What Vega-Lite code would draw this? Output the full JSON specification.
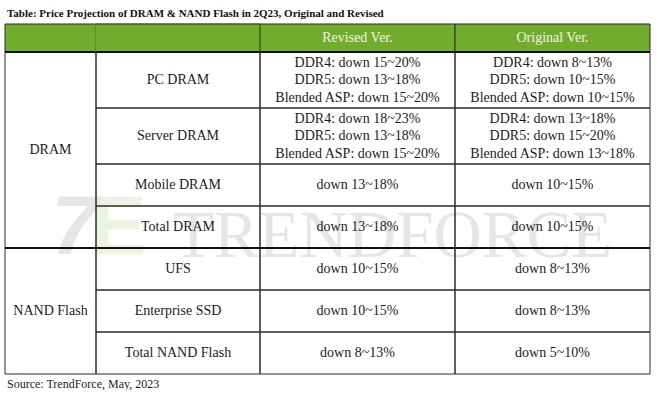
{
  "$schema": "https://vega.github.io/schema/vega-lite/v6.json",
  "background": "white",
  "padding": {"left": 3, "top": 7, "right": 0, "bottom": 0},
  "bounds": "flush",
  "spacing": 0,
  "title": {
    "text": "Table: Price Projection of DRAM & NAND Flash in 2Q23, Original and Revised",
    "anchor": "start",
    "frame": "group",
    "font": "Liberation Serif",
    "fontSize": 11,
    "fontWeight": "bold",
    "color": "#111111",
    "offset": 5,
    "dx": 2
  },
  "datasets": {
    "rows": [
      {"group": "DRAM", "item": "PC DRAM", "revised": "DDR4: down 15~20%\nDDR5: down 13~18%\nBlended ASP: down 15~20%", "original": "DDR4: down 8~13%\nDDR5: down 10~15%\nBlended ASP: down 10~15%", "rowStart": 2, "rowEnd": 6},
      {"group": "DRAM", "item": "Server DRAM", "revised": "DDR4: down 18~23%\nDDR5: down 13~18%\nBlended ASP: down 15~20%", "original": "DDR4: down 13~18%\nDDR5: down 15~20%\nBlended ASP: down 13~18%", "rowStart": 6, "rowEnd": 10},
      {"group": "DRAM", "item": "Mobile DRAM", "revised": "down 13~18%", "original": "down 10~15%", "rowStart": 10, "rowEnd": 13},
      {"group": "DRAM", "item": "Total DRAM", "revised": "down 13~18%", "original": "down 10~15%", "rowStart": 13, "rowEnd": 16},
      {"group": "NAND Flash", "item": "UFS", "revised": "down 10~15%", "original": "down 8~13%", "rowStart": 16, "rowEnd": 19},
      {"group": "NAND Flash", "item": "Enterprise SSD", "revised": "down 10~15%", "original": "down 8~13%", "rowStart": 19, "rowEnd": 22},
      {"group": "NAND Flash", "item": "Total NAND Flash", "revised": "down 8~13%", "original": "down 5~10%", "rowStart": 22, "rowEnd": 25}
    ],
    "header": [
      {"col": "group", "label": ""},
      {"col": "item", "label": ""},
      {"col": "revised", "label": "Revised Ver."},
      {"col": "original", "label": "Original Ver."}
    ],
    "notes": [
      {"kind": "watermark", "text": "TRENDFORCE"},
      {"kind": "logo1", "text": "7"},
      {"kind": "logo2", "text": "E"},
      {"kind": "source", "text": "Source: TrendForce, May, 2023"}
    ]
  },
  "config": {
    "view": {"stroke": null},
    "text": {"font": "Liberation Serif", "fontSize": 14, "color": "#1c1c1c"}
  },
  "hconcat": [
    {
      "width": 91,
      "height": 350,
      "layer": [
        {
          "data": {"name": "notes"},
          "transform": [{"filter": "datum.kind == 'logo2'"}],
          "mark": {"type": "text", "font": "Liberation Sans", "fontWeight": "bold", "fontSize": 84, "color": "#edf3e3", "baseline": "alphabetic", "align": "center", "dx": 68},
          "encoding": {
            "y": {"datum": 16.4, "type": "quantitative", "scale": {"domain": [0, 25], "reverse": true, "nice": false, "zero": false}, "axis": null},
            "text": {"field": "text", "type": "nominal"}
          }
        },
        {
          "data": {"name": "notes"},
          "transform": [{"filter": "datum.kind == 'logo1'"}],
          "mark": {"type": "text", "font": "Liberation Sans", "fontWeight": "bold", "fontStyle": "italic", "fontSize": 84, "color": "#e6e6e6", "baseline": "alphabetic", "align": "center", "dx": 24},
          "encoding": {
            "y": {"datum": 16.4, "type": "quantitative", "scale": {"domain": [0, 25], "reverse": true, "nice": false, "zero": false}, "axis": null},
            "text": {"field": "text", "type": "nominal"}
          }
        },
        {
          "data": {"name": "notes"},
          "transform": [{"filter": "datum.kind == 'watermark'"}],
          "mark": {"type": "text", "fontSize": 67, "color": "#e6e6e6", "baseline": "alphabetic", "align": "center", "dx": 342},
          "encoding": {
            "y": {"datum": 16.65, "type": "quantitative", "scale": {"domain": [0, 25], "reverse": true, "nice": false, "zero": false}, "axis": null},
            "text": {"field": "text", "type": "nominal"}
          }
        },
        {
          "data": {"name": "header"},
          "transform": [{"filter": "datum.col == 'group'"}],
          "mark": {"type": "rect", "fill": "#72ac2c", "stroke": "#2a2a2a", "strokeWidth": 1},
          "encoding": {
            "y": {"datum": 0, "type": "quantitative", "scale": {"domain": [0, 25], "reverse": true, "nice": false, "zero": false}, "axis": null},
            "y2": {"datum": 2}
          }
        },
        {
          "data": {"name": "rows"},
          "transform": [{"aggregate": [{"op": "min", "field": "rowStart", "as": "rowStart"}, {"op": "max", "field": "rowEnd", "as": "rowEnd"}], "groupby": ["group"]}],
          "mark": {"type": "rect", "fill": "white", "fillOpacity": 0, "stroke": "#2a2a2a", "strokeWidth": 1},
          "encoding": {
            "y": {"field": "rowStart", "type": "quantitative", "scale": {"domain": [0, 25], "reverse": true, "nice": false, "zero": false}, "axis": null},
            "y2": {"field": "rowEnd"}
          }
        },
        {
          "data": {"name": "rows"},
          "transform": [
            {"aggregate": [{"op": "min", "field": "rowStart", "as": "rowStart"}, {"op": "max", "field": "rowEnd", "as": "rowEnd"}], "groupby": ["group"]},
            {"fold": ["rowStart", "rowEnd"], "as": ["edge", "pos"]}
          ],
          "mark": {"type": "text", "baseline": "middle", "align": "center"},
          "encoding": {
            "y": {"aggregate": "mean", "field": "pos", "type": "quantitative", "scale": {"domain": [0, 25], "reverse": true, "nice": false, "zero": false}, "axis": null},
            "text": {"field": "group", "type": "nominal"}
          }
        },
        {
          "data": {"name": "rows"},
          "transform": [{"aggregate": [{"op": "min", "field": "rowStart", "as": "rowStart"}], "groupby": ["group"]}],
          "mark": {"type": "rule", "color": "#111111", "strokeWidth": 2.2},
          "encoding": {
            "y": {"field": "rowStart", "type": "quantitative", "scale": {"domain": [0, 25], "reverse": true, "nice": false, "zero": false}, "axis": null}
          }
        },
        {
          "data": {"name": "notes"},
          "transform": [{"filter": "datum.kind == 'source'"}],
          "mark": {"type": "text", "fontSize": 12, "align": "left", "baseline": "alphabetic", "dx": -43.5},
          "encoding": {
            "y": {"datum": 26, "type": "quantitative", "scale": {"domain": [0, 25], "reverse": true, "nice": false, "zero": false}, "axis": null},
            "text": {"field": "text", "type": "nominal"}
          }
        }
      ]
    },
    {
      "width": 164,
      "height": 350,
      "layer": [
        {
          "data": {"name": "header"},
          "transform": [{"filter": "datum.col == 'item'"}],
          "mark": {"type": "rect", "fill": "#72ac2c", "stroke": "#72ac2c", "strokeWidth": 1},
          "encoding": {
            "y": {"datum": 0, "type": "quantitative", "scale": {"domain": [0, 25], "reverse": true, "nice": false, "zero": false}, "axis": null},
            "y2": {"datum": 2}
          }
        },
        {
          "data": {"name": "header"},
          "transform": [{"filter": "datum.col == 'item'"}],
          "mark": {"type": "rule", "color": "#2a2a2a", "strokeWidth": 1},
          "encoding": {
            "y": {"datum": 0, "type": "quantitative", "scale": {"domain": [0, 25], "reverse": true, "nice": false, "zero": false}, "axis": null}
          }
        },
        {
          "data": {"name": "rows"},
          "mark": {"type": "rect", "fill": "white", "fillOpacity": 0, "stroke": "#2a2a2a", "strokeWidth": 1},
          "encoding": {
            "y": {"field": "rowStart", "type": "quantitative", "scale": {"domain": [0, 25], "reverse": true, "nice": false, "zero": false}, "axis": null},
            "y2": {"field": "rowEnd"}
          }
        },
        {
          "data": {"name": "rows"},
          "transform": [{"fold": ["rowStart", "rowEnd"], "as": ["edge", "pos"]}],
          "mark": {"type": "text", "baseline": "middle", "align": "center"},
          "encoding": {
            "y": {"aggregate": "mean", "field": "pos", "type": "quantitative", "scale": {"domain": [0, 25], "reverse": true, "nice": false, "zero": false}, "axis": null},
            "text": {"field": "item", "type": "nominal"}
          }
        },
        {
          "data": {"name": "rows"},
          "transform": [{"aggregate": [{"op": "min", "field": "rowStart", "as": "rowStart"}], "groupby": ["group"]}],
          "mark": {"type": "rule", "color": "#111111", "strokeWidth": 2.2},
          "encoding": {
            "y": {"field": "rowStart", "type": "quantitative", "scale": {"domain": [0, 25], "reverse": true, "nice": false, "zero": false}, "axis": null}
          }
        }
      ]
    },
    {
      "width": 195,
      "height": 350,
      "layer": [
        {
          "data": {"name": "header"},
          "transform": [{"filter": "datum.col == 'revised'"}],
          "mark": {"type": "rect", "fill": "#72ac2c", "stroke": "#2a2a2a", "strokeWidth": 1},
          "encoding": {
            "y": {"datum": 0, "type": "quantitative", "scale": {"domain": [0, 25], "reverse": true, "nice": false, "zero": false}, "axis": null},
            "y2": {"datum": 2}
          }
        },
        {
          "data": {"name": "header"},
          "transform": [{"filter": "datum.col == 'revised'"}],
          "mark": {"type": "text", "color": "#f3f3e6", "baseline": "middle", "align": "center"},
          "encoding": {
            "y": {"datum": 1, "type": "quantitative", "scale": {"domain": [0, 25], "reverse": true, "nice": false, "zero": false}, "axis": null},
            "text": {"field": "label", "type": "nominal"}
          }
        },
        {
          "data": {"name": "rows"},
          "mark": {"type": "rect", "fill": "white", "fillOpacity": 0, "stroke": "#2a2a2a", "strokeWidth": 1},
          "encoding": {
            "y": {"field": "rowStart", "type": "quantitative", "scale": {"domain": [0, 25], "reverse": true, "nice": false, "zero": false}, "axis": null},
            "y2": {"field": "rowEnd"}
          }
        },
        {
          "data": {"name": "rows"},
          "transform": [
            {"filter": "indexof(datum.revised, '\\n') < 0"},
            {"fold": ["rowStart", "rowEnd"], "as": ["edge", "pos"]}
          ],
          "mark": {"type": "text", "baseline": "middle", "align": "center"},
          "encoding": {
            "y": {"aggregate": "mean", "field": "pos", "type": "quantitative", "scale": {"domain": [0, 25], "reverse": true, "nice": false, "zero": false}, "axis": null},
            "text": {"field": "revised", "type": "nominal"},
            "detail": {"field": "item", "type": "nominal"}
          }
        },
        {
          "data": {"name": "rows"},
          "transform": [
            {"filter": "indexof(datum.revised, '\\n') >= 0"},
            {"fold": ["rowStart", "rowEnd"], "as": ["edge", "pos"]}
          ],
          "mark": {"type": "text", "baseline": "middle", "align": "center", "lineBreak": "\n", "lineHeight": 17.5, "dy": -17.5},
          "encoding": {
            "y": {"aggregate": "mean", "field": "pos", "type": "quantitative", "scale": {"domain": [0, 25], "reverse": true, "nice": false, "zero": false}, "axis": null},
            "text": {"field": "revised", "type": "nominal"},
            "detail": {"field": "item", "type": "nominal"}
          }
        },
        {
          "data": {"name": "rows"},
          "transform": [{"aggregate": [{"op": "min", "field": "rowStart", "as": "rowStart"}], "groupby": ["group"]}],
          "mark": {"type": "rule", "color": "#111111", "strokeWidth": 2.2},
          "encoding": {
            "y": {"field": "rowStart", "type": "quantitative", "scale": {"domain": [0, 25], "reverse": true, "nice": false, "zero": false}, "axis": null}
          }
        }
      ]
    },
    {
      "width": 195,
      "height": 350,
      "layer": [
        {
          "data": {"name": "header"},
          "transform": [{"filter": "datum.col == 'original'"}],
          "mark": {"type": "rect", "fill": "#72ac2c", "stroke": "#2a2a2a", "strokeWidth": 1},
          "encoding": {
            "y": {"datum": 0, "type": "quantitative", "scale": {"domain": [0, 25], "reverse": true, "nice": false, "zero": false}, "axis": null},
            "y2": {"datum": 2}
          }
        },
        {
          "data": {"name": "header"},
          "transform": [{"filter": "datum.col == 'original'"}],
          "mark": {"type": "text", "color": "#f3f3e6", "baseline": "middle", "align": "center"},
          "encoding": {
            "y": {"datum": 1, "type": "quantitative", "scale": {"domain": [0, 25], "reverse": true, "nice": false, "zero": false}, "axis": null},
            "text": {"field": "label", "type": "nominal"}
          }
        },
        {
          "data": {"name": "rows"},
          "mark": {"type": "rect", "fill": "white", "fillOpacity": 0, "stroke": "#2a2a2a", "strokeWidth": 1},
          "encoding": {
            "y": {"field": "rowStart", "type": "quantitative", "scale": {"domain": [0, 25], "reverse": true, "nice": false, "zero": false}, "axis": null},
            "y2": {"field": "rowEnd"}
          }
        },
        {
          "data": {"name": "rows"},
          "transform": [
            {"filter": "indexof(datum.original, '\\n') < 0"},
            {"fold": ["rowStart", "rowEnd"], "as": ["edge", "pos"]}
          ],
          "mark": {"type": "text", "baseline": "middle", "align": "center"},
          "encoding": {
            "y": {"aggregate": "mean", "field": "pos", "type": "quantitative", "scale": {"domain": [0, 25], "reverse": true, "nice": false, "zero": false}, "axis": null},
            "text": {"field": "original", "type": "nominal"},
            "detail": {"field": "item", "type": "nominal"}
          }
        },
        {
          "data": {"name": "rows"},
          "transform": [
            {"filter": "indexof(datum.original, '\\n') >= 0"},
            {"fold": ["rowStart", "rowEnd"], "as": ["edge", "pos"]}
          ],
          "mark": {"type": "text", "baseline": "middle", "align": "center", "lineBreak": "\n", "lineHeight": 17.5, "dy": -17.5},
          "encoding": {
            "y": {"aggregate": "mean", "field": "pos", "type": "quantitative", "scale": {"domain": [0, 25], "reverse": true, "nice": false, "zero": false}, "axis": null},
            "text": {"field": "original", "type": "nominal"},
            "detail": {"field": "item", "type": "nominal"}
          }
        },
        {
          "data": {"name": "rows"},
          "transform": [{"aggregate": [{"op": "min", "field": "rowStart", "as": "rowStart"}], "groupby": ["group"]}],
          "mark": {"type": "rule", "color": "#111111", "strokeWidth": 2.2},
          "encoding": {
            "y": {"field": "rowStart", "type": "quantitative", "scale": {"domain": [0, 25], "reverse": true, "nice": false, "zero": false}, "axis": null}
          }
        }
      ]
    }
  ]
}
